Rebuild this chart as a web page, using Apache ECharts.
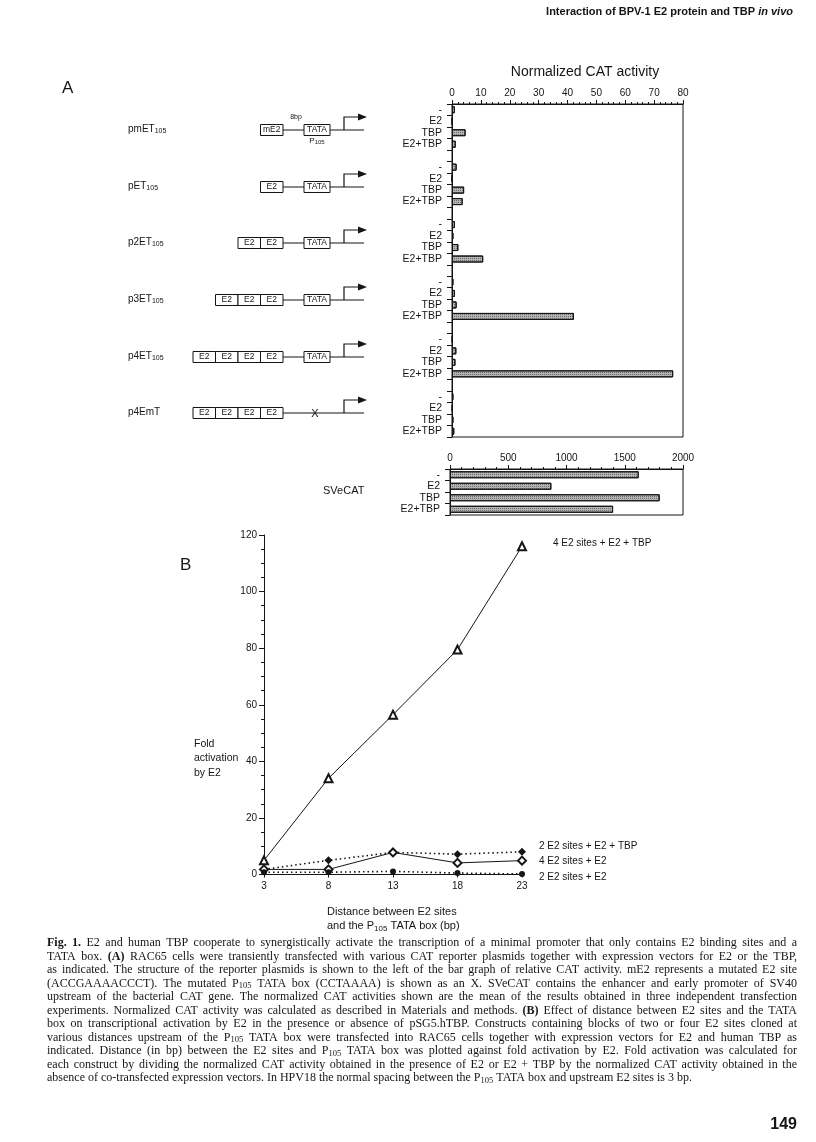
<!DOCTYPE html>
<html>
<head>
<meta charset="utf-8">
<script src="https://cdn.jsdelivr.net/npm/echarts@6/dist/echarts.min.js"></script>
<style>
  html, body { margin: 0; padding: 0; background: #fff; }
  #chart { width: 816px; height: 1142px; }
</style>
</head>
<body>
<div id="chart"></div>
<script>
// ---- panel A data ----
const rowLabels = ['-', 'E2', 'TBP', 'E2+TBP']
const constructNames = ['pmET', 'pET', 'p2ET', 'p3ET', 'p4ET', 'p4EmT']
const constructSub = ['105', '105', '105', '105', '105', '']
const constructSites = [1, 1, 2, 3, 4, 4]
const tataIntact = [true, true, true, true, true, false]
// normalized CAT activity, one row per construct: -, E2, TBP, E2+TBP
const catActivity = [
  [1.0, 0.1, 4.7, 1.3],
  [1.6, 0.1, 4.2, 3.7],
  [1.0, 0.5, 2.2, 10.8],
  [0.5, 1.0, 1.6, 42.2],
  [0.2, 1.5, 1.2, 76.6],
  [0.5, 0.2, 0.5, 0.8]
]
const svecatActivity = [1620, 870, 1800, 1400]

// ---- panel B data ----
const distances = ['3', '8', '13', '18', '23']
const fold4SitesTBP = [5.0, 34.0, 56.5, 79.5, 116.0]
const fold2SitesTBP = [1.8, 5.0, 7.8, 7.2, 8.0]
const fold4SitesE2 = [1.8, 1.8, 7.8, 4.1, 4.9]
const fold2SitesE2 = [0.8, 0.8, 1.1, 0.5, 0.2]
const seriesNames = ['4 E2 sites + E2 + TBP', '2 E2 sites + E2 + TBP', '4 E2 sites + E2', '2 E2 sites + E2']

const captionLines = [
  '{b|Fig. 1.} E2 and human TBP cooperate to synergistically activate the transcription of a minimal promoter that only contains E2 binding sites and a',
  'TATA box. {b|(A)} RAC65 cells were transiently transfected with various CAT reporter plasmids together with expression vectors for E2 or the TBP,',
  'as indicated. The structure of the reporter plasmids is shown to the left of the bar graph of relative CAT activity. mE2 represents a mutated E2 site',
  '(ACCGAAAACCCT). The mutated P{s|105} TATA box (CCTAAAA) is shown as an X. SVeCAT contains the enhancer and early promoter of SV40',
  'upstream of the bacterial CAT gene. The normalized CAT activities shown are the mean of the results obtained in three independent transfection',
  'experiments. Normalized CAT activity was calculated as described in Materials and methods. {b|(B)} Effect of distance between E2 sites and the TATA',
  'box on transcriptional activation by E2 in the presence or absence of pSG5.hTBP. Constructs containing blocks of two or four E2 sites cloned at',
  'various distances upstream of the P{s|105} TATA box were transfected into RAC65 cells together with expression vectors for E2 and human TBP as',
  'indicated. Distance (in bp) between the E2 sites and P{s|105} TATA box was plotted against fold activation by E2. Fold activation was calculated for',
  'each construct by dividing the normalized CAT activity obtained in the presence of E2 or E2 + TBP by the normalized CAT activity obtained in the',
  'absence of co-transfected expression vectors. In HPV18 the normal spacing between the P{s|105} TATA box and upstream E2 sites is 3 bp.'
]

const SANS = '"Liberation Sans", Arial, sans-serif'
const SERIF = '"Liberation Serif", "Times New Roman", serif'
const INK = '#151515'

// bar slots: 4 rows per construct, one blank slot between constructs
const barSlots = []
const barValues = []
constructNames.forEach((n, g) => {
  rowLabels.forEach((r, k) => {
    barSlots.push(r)
    barValues.push(catActivity[g][k])
  })
  if (g < constructNames.length - 1) {
    barSlots.push('')
    barValues.push('-')
  }
})

const barStyle = {
  color: '#b4b4b4',
  borderColor: INK,
  borderWidth: 1,
  decal: { symbol: 'rect', symbolSize: 1, dashArrayX: [1, 1], dashArrayY: [1, 1], color: 'rgba(0,0,0,0.4)' }
}

// small text helper for graphic elements
function txt(x, y, text, size, extra) {
  const style = Object.assign({
    text: text, fontSize: size, fontFamily: SANS, fill: INK,
    align: 'left', textAlign: 'left', verticalAlign: 'middle', textVerticalAlign: 'middle'
  }, extra || {})
  if (style.align !== 'left') style.textAlign = style.align
  return { type: 'text', x: x, y: y, silent: true, style: style }
}

// plasmid diagrams left of the bar graph
const diagramY = [130, 187, 243, 300, 357, 413]
function constructDiagram(i) {
  const y = diagramY[i]
  const els = []
  const boxRight = 283
  const boxW = 22.5
  els.push({ type: 'line', silent: true, shape: { x1: boxRight, y1: y, x2: 364, y2: y }, style: { stroke: INK, lineWidth: 1 } })
  for (let j = 0; j < constructSites[i]; j++) {
    const x0 = boxRight - (constructSites[i] - j) * boxW
    els.push({ type: 'rect', silent: true, shape: { x: x0, y: y - 5.5, width: boxW, height: 11 }, style: { fill: '#fff', stroke: INK, lineWidth: 1 } })
    els.push(txt(x0 + boxW / 2, y, i === 0 ? 'mE2' : 'E2', 8.5, { align: 'center' }))
  }
  if (tataIntact[i]) {
    els.push({ type: 'rect', silent: true, shape: { x: 304, y: y - 5.5, width: 26, height: 11 }, style: { fill: '#fff', stroke: INK, lineWidth: 1 } })
    els.push(txt(317, y, 'TATA', 8.5, { align: 'center' }))
  } else {
    els.push(txt(315, y + 0.5, 'X', 11, { align: 'center' }))
  }
  els.push({ type: 'polyline', silent: true, shape: { points: [[344, y], [344, y - 13], [360, y - 13]] }, style: { stroke: INK, lineWidth: 1.2, fill: null } })
  els.push({ type: 'polygon', silent: true, shape: { points: [[358, y - 16.5], [367, y - 13], [358, y - 9.5]] }, style: { fill: INK } })
  els.push(txt(128, y - 1, constructNames[i] + (constructSub[i] ? '{s|' + constructSub[i] + '}' : ''), 10, {
    rich: { s: { fontSize: 7, fontFamily: SANS, fill: INK, verticalAlign: 'bottom', lineHeight: 7 } }, lineHeight: 11
  }))
  return els
}

// justified caption: every word placed on its own, lines spread to the full measure
const measureCtx = document.createElement('canvas').getContext('2d')
const capFonts = {
  n: '12px "Liberation Serif"',
  b: 'bold 12px "Liberation Serif"',
  s: '8.5px "Liberation Serif"'
}
function measure(text, key) {
  measureCtx.font = capFonts[key]
  return measureCtx.measureText(text).width
}
function captionWords(line) {
  const words = [[]]
  const re = /\{(\w)\|([^}]*)\}|([^{]+)/g
  let m
  while ((m = re.exec(line)) !== null) {
    const key = m[1] || 'n'
    const parts = (m[1] ? m[2] : m[3]).split(' ')
    parts.forEach((p, k) => {
      if (k > 0) words.push([])
      if (p) words[words.length - 1].push({ text: p, key: key })
    })
  }
  return words.filter(w => w.length)
}
function captionElements(left, right, top, step) {
  const els = []
  const spaceW = measure(' ', 'n')
  captionLines.forEach((line, li) => {
    const words = captionWords(line)
    const widths = words.map(w => w.reduce((a, seg) => a + measure(seg.text, seg.key), 0))
    const total = widths.reduce((a, b) => a + b, 0)
    const last = li === captionLines.length - 1
    const gap = last ? spaceW : (right - left - total) / (words.length - 1)
    let x = left
    words.forEach((w, wi) => {
      const rich = w.map(seg => seg.key === 'n' ? seg.text : '{' + seg.key + '|' + seg.text + '}').join('')
      els.push(txt(x, top + li * step, rich, 12, {
        fontFamily: SERIF, lineHeight: 14,
        rich: {
          s: { fontSize: 8.5, fontFamily: SERIF, fill: INK, verticalAlign: 'bottom', lineHeight: 8 },
          b: { fontSize: 12, fontFamily: SERIF, fontWeight: 'bold', fill: INK, lineHeight: 14 }
        }
      }))
      x += widths[wi] + gap
    })
  })
  return els
}

const graphics = []
graphics.push(txt(793, 12, '{b|Interaction of BPV-1 E2 protein and TBP }{i|in vivo}', 11, {
  align: 'right',
  rich: {
    b: { fontSize: 11, fontWeight: 'bold', fontFamily: SANS, fill: INK },
    i: { fontSize: 11, fontWeight: 'bold', fontStyle: 'italic', fontFamily: SANS, fill: INK }
  }
}))
graphics.push(txt(62, 88, 'A', 17))
graphics.push(txt(585, 72, 'Normalized CAT activity', 14, { align: 'center' }))
graphics.push(txt(296, 117, '8bp', 7, { align: 'center' }))
graphics.push(txt(317, 141, 'P{s|105}', 8, { align: 'center', rich: { s: { fontSize: 6, fontFamily: SANS, fill: INK, verticalAlign: 'bottom', lineHeight: 6 } }, lineHeight: 9 }))
constructNames.forEach((n, i) => { graphics.push.apply(graphics, constructDiagram(i)) })
graphics.push(txt(323, 491, 'SVeCAT', 11))

graphics.push(txt(180, 565, 'B', 17))
graphics.push(txt(194, 744, 'Fold', 10.5))
graphics.push(txt(194, 758.5, 'activation', 10.5))
graphics.push(txt(194, 773, 'by E2', 10.5))
graphics.push(txt(553, 543, seriesNames[0], 10))
graphics.push(txt(539, 846, seriesNames[1], 10))
graphics.push(txt(539, 861, seriesNames[2], 10))
graphics.push(txt(539, 877, seriesNames[3], 10))
graphics.push(txt(327, 912, 'Distance between E2 sites', 11))
graphics.push(txt(327, 926, 'and the P{s|105} TATA box (bp)', 11, {
  rich: { s: { fontSize: 8, fontFamily: SANS, fill: INK, verticalAlign: 'bottom', lineHeight: 8 } }, lineHeight: 13
}))
graphics.push.apply(graphics, captionElements(47, 797, 943, 13.5))
graphics.push(txt(797, 1125, '149', 16, { align: 'right', fontWeight: 'bold' }))

const axisText = { color: INK, fontFamily: SANS }

const chart = echarts.init(document.getElementById('chart'))
chart.setOption({
  backgroundColor: '#fff',
  animation: false,
  grid: [
    { left: 452, top: 104, width: 231, height: 333, show: true, borderColor: INK, borderWidth: 1, backgroundColor: 'transparent' },
    { left: 450, top: 469, width: 233, height: 46, show: true, borderColor: INK, borderWidth: 1, backgroundColor: 'transparent' },
    { left: 264, top: 535, width: 258, height: 339.5 }
  ],
  xAxis: [
    {
      gridIndex: 0, type: 'value', position: 'top', min: 0, max: 80, interval: 10,
      axisLine: { show: true, lineStyle: { color: INK } },
      axisTick: { show: true, length: 4, lineStyle: { color: INK } },
      minorTick: { show: true, splitNumber: 5, length: 2, lineStyle: { color: INK } },
      splitLine: { show: false },
      axisLabel: Object.assign({ fontSize: 10, margin: 6 }, axisText)
    },
    {
      gridIndex: 1, type: 'value', position: 'top', min: 0, max: 2000, interval: 500,
      axisLine: { show: true, lineStyle: { color: INK } },
      axisTick: { show: true, length: 4, lineStyle: { color: INK } },
      minorTick: { show: true, splitNumber: 5, length: 2, lineStyle: { color: INK } },
      splitLine: { show: false },
      axisLabel: Object.assign({ fontSize: 10, margin: 6, formatter: v => String(v) }, axisText)
    },
    {
      gridIndex: 2, type: 'category', data: distances, boundaryGap: false,
      axisLine: { show: true, lineStyle: { color: INK } },
      axisTick: { show: true, length: 3, lineStyle: { color: INK } },
      splitLine: { show: false },
      axisLabel: Object.assign({ fontSize: 10, margin: 7 }, axisText)
    }
  ],
  yAxis: [
    {
      gridIndex: 0, type: 'category', data: barSlots, inverse: true,
      axisLine: { show: true, lineStyle: { color: INK } },
      axisTick: { show: true, length: 5, lineStyle: { color: INK } },
      axisLabel: Object.assign({ fontSize: 10.5, margin: 10, interval: 0 }, axisText)
    },
    {
      gridIndex: 1, type: 'category', data: rowLabels, inverse: true,
      axisLine: { show: true, lineStyle: { color: INK } },
      axisTick: { show: true, length: 5, lineStyle: { color: INK } },
      axisLabel: Object.assign({ fontSize: 10.5, margin: 10, interval: 0 }, axisText)
    },
    {
      gridIndex: 2, type: 'value', min: 0, max: 120, interval: 20,
      axisLine: { show: true, lineStyle: { color: INK } },
      axisTick: { show: true, length: 5, lineStyle: { color: INK } },
      minorTick: { show: true, splitNumber: 4, length: 3, lineStyle: { color: INK } },
      splitLine: { show: false },
      axisLabel: Object.assign({ fontSize: 10, margin: 7 }, axisText)
    }
  ],
  series: [
    { type: 'bar', xAxisIndex: 0, yAxisIndex: 0, data: barValues, barWidth: 7, itemStyle: barStyle, silent: true },
    { type: 'bar', xAxisIndex: 1, yAxisIndex: 1, data: svecatActivity, barWidth: 7, itemStyle: barStyle, silent: true },
    {
      name: seriesNames[0], type: 'line', xAxisIndex: 2, yAxisIndex: 2, data: fold4SitesTBP,
      symbol: 'emptyTriangle', symbolSize: 8, lineStyle: { color: INK, width: 1 }, itemStyle: { color: INK }
    },
    {
      name: seriesNames[1], type: 'line', xAxisIndex: 2, yAxisIndex: 2, data: fold2SitesTBP,
      symbol: 'diamond', symbolSize: 8, lineStyle: { color: INK, width: 1.6, type: [1.5, 3] }, itemStyle: { color: INK }
    },
    {
      name: seriesNames[2], type: 'line', xAxisIndex: 2, yAxisIndex: 2, data: fold4SitesE2,
      symbol: 'emptyDiamond', symbolSize: 8, lineStyle: { color: INK, width: 1 }, itemStyle: { color: INK }
    },
    {
      name: seriesNames[3], type: 'line', xAxisIndex: 2, yAxisIndex: 2, data: fold2SitesE2,
      symbol: 'circle', symbolSize: 6, lineStyle: { color: INK, width: 1.6, type: [1.5, 3] }, itemStyle: { color: INK }
    }
  ],
  graphic: { elements: graphics }
})
</script>
</body>
</html>
